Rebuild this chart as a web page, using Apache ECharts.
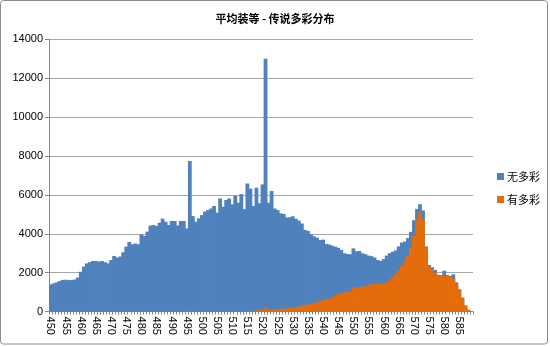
<!DOCTYPE html>
<html>
<head>
<meta charset="utf-8">
<script src="https://cdn.jsdelivr.net/npm/echarts@6/dist/echarts.min.js"></script>
<style>
html,body{margin:0;padding:0;background:#fff;}
#c{width:550px;height:346px;}
</style>
</head>
<body>
<div id="c"></div>
<script>
const titleText = '平均装等 - 传说多彩分布';
const seriesNames = ['无多彩', '有多彩'];
const yTicks = [0, 2000, 4000, 6000, 8000, 10000, 12000, 14000];

const categories = [
  450,451,452,453,454,455,456,457,458,459,
  460,461,462,463,464,465,466,467,468,469,
  470,471,472,473,474,475,476,477,478,479,
  480,481,482,483,484,485,486,487,488,489,
  490,491,492,493,494,495,496,497,498,499,
  500,501,502,503,504,505,506,507,508,509,
  510,511,512,513,514,515,516,517,518,519,
  520,521,522,523,524,525,526,527,528,529,
  530,531,532,533,534,535,536,537,538,539,
  540,541,542,543,544,545,546,547,548,549,
  550,551,552,553,554,555,556,557,558,559,
  560,561,562,563,564,565,566,567,568,569,
  570,571,572,573,574,575,576,577,578,579,
  580,581,582,583,584,585,586,587,588,589
];

const noMulti = [
  1400,1450,1500,1570,1630,1640,1620,1620,1650,1750,
  2050,2310,2480,2540,2600,2600,2570,2600,2540,2480,
  2650,2860,2780,2830,3050,3340,3580,3460,3500,3460,
  3970,3890,4110,4420,4450,4400,4570,4780,4620,4450,
  4660,4660,4430,4660,4660,4280,7740,4910,4620,4790,
  4960,5140,5220,5300,5430,5090,5820,5390,5740,5820,
  5510,5960,5600,6040,5270,6590,6320,5430,6370,5570,
  6540,13000,5600,6200,5300,5220,5050,5020,4840,4850,
  4900,4770,4680,4530,4200,4150,3980,3870,3800,3680,
  3700,3480,3450,3390,3340,3285,3165,3000,2960,2950,
  3250,3100,3115,3000,2950,2880,2850,2780,2650,2600,
  2700,2880,3000,3080,3150,3350,3550,3600,3780,4100,
  4700,5280,5520,5200,3350,2400,2280,2140,1900,1880,
  2100,1880,1830,1920,1500,1150,720,320,100,0
];

const withMulti = [
  0,0,0,0,0,0,0,0,0,0,
  0,0,0,0,0,0,0,0,0,0,
  0,0,0,0,0,0,0,0,0,0,
  0,0,0,0,0,0,0,0,0,0,
  0,0,0,0,0,0,0,0,0,0,
  0,0,0,0,0,0,0,0,0,0,
  0,0,0,0,0,0,0,40,60,70,
  80,200,80,100,90,120,140,150,170,180,
  200,230,250,300,340,360,400,430,470,520,
  600,640,660,720,800,900,950,990,1000,1020,
  1200,1250,1260,1280,1300,1350,1400,1420,1450,1430,
  1450,1500,1620,1750,1950,2100,2350,2600,2900,3300,
  3900,4750,5100,4750,3250,2310,2190,2000,1880,1860,
  1830,1840,1790,1710,1400,1100,680,300,80,0
];

const chart = echarts.init(document.getElementById('c'), null, {renderer: 'canvas'});
const font = '"Liberation Sans", "Noto Sans CJK SC", sans-serif';
const blue = '#4F81BD';
const orange = '#E46C0A';
chart.setOption({
  animation: false,
  backgroundColor: '#ffffff',
  title: {
    text: titleText,
    left: 'center',
    top: 8,
    textStyle: {fontSize: 11, fontWeight: 'bold', color: '#000', fontFamily: '"Noto Sans CJK SC", sans-serif'}
  },
  legend: {
    orient: 'vertical',
    left: 492,
    top: 166,
    itemWidth: 7,
    itemHeight: 7,
    itemGap: 12,
    icon: 'rect',
    textStyle: {fontSize: 11, color: '#000', fontFamily: '"Noto Sans CJK SC", sans-serif', padding: [0,0,0,-2]},
    data: seriesNames
  },
  grid: {left: 49, right: 77, top: 39.3, bottom: 34.4, containLabel: false},
  xAxis: {
    type: 'category',
    data: categories,
    boundaryGap: true,
    axisLine: {lineStyle: {color: '#868686'}},
    axisTick: {show: true, interval: 0, length: 3, lineStyle: {color: '#868686'}},
    axisLabel: {interval: 4, rotate: -90, fontSize: 11, color: '#000', margin: 5, fontFamily: font}
  },
  yAxis: {
    type: 'value',
    min: yTicks[0],
    max: yTicks[yTicks.length - 1],
    interval: 2000,
    axisLine: {show: true, lineStyle: {color: '#868686'}},
    axisTick: {show: true, length: 4, lineStyle: {color: '#868686'}},
    axisLabel: {fontSize: 11, color: '#000', margin: 6, fontFamily: font, formatter: function (v) { return String(v); }},
    splitLine: {lineStyle: {color: '#a6a6a6', width: 1}}
  },
  series: [
    {
      name: seriesNames[0],
      type: 'bar',
      data: noMulti,
      barGap: '-100%',
      barWidth: 3.8,
      itemStyle: {color: blue}
    },
    {
      name: seriesNames[1],
      type: 'bar',
      data: withMulti,
      barGap: '-100%',
      barWidth: 3.8,
      itemStyle: {color: orange}
    }
  ],
  graphic: [
    {type: 'rect', shape: {x: 0.5, y: 0.5, width: 547, height: 343.5, r: 3}, style: {fill: 'none', stroke: '#8c8c8c', lineWidth: 1}, silent: true, z: 100}
  ]
});
</script>
</body>
</html>
